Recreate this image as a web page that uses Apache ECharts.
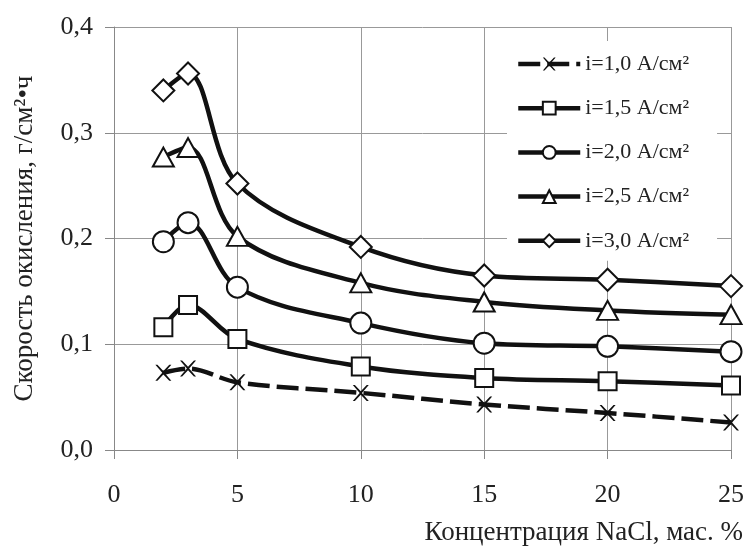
<!DOCTYPE html>
<html>
<head>
<meta charset="utf-8">
<script src="https://cdn.jsdelivr.net/npm/echarts@6/dist/echarts.min.js"></script>
<style>
  html, body { margin: 0; padding: 0; background: #fff; }
  #chart { width: 749px; height: 549px; }
</style>
</head>
<body>
<div id="chart"></div>
<script>
// концентрация NaCl, мас. %
const conc = [2, 3, 5, 10, 15, 20, 25];
// скорость окисления, г/см2·ч, для разных плотностей тока
const i10 = [0.073, 0.077, 0.064, 0.054, 0.043, 0.035, 0.026];
const i15 = [0.116, 0.137, 0.105, 0.079, 0.068, 0.065, 0.061];
const i20 = [0.197, 0.215, 0.154, 0.120, 0.101, 0.098, 0.093];
const i25 = [0.277, 0.286, 0.202, 0.158, 0.140, 0.132, 0.128];
const i30 = [0.340, 0.356, 0.252, 0.192, 0.165, 0.161, 0.155];
const seriesNames = ['i=1,0 А/см²', 'i=1,5 А/см²', 'i=2,0 А/см²', 'i=2,5 А/см²', 'i=3,0 А/см²'];
const xTicks = [0, 5, 10, 15, 20, 25];
const yTicks = [0, 0.1, 0.2, 0.3, 0.4];

const font = 'Liberation Serif';
// тонкий крестик
const crossPath = 'path://M0,0L1.3,0L5,3.9L8.7,0L10,0L5.7,5L10,10L8.7,10L5,6.1L1.3,10L0,10L4.3,5Z';

function pairs(vals) {
  return conc.map((c, k) => [c, vals[k]]);
}

function mkSeries(name, vals, symbol, size, dashed) {
  return {
    name: name,
    type: 'line',
    smooth: 0.35,
    data: pairs(vals),
    symbol: symbol,
    symbolSize: size,
    showAllSymbol: true,
    lineStyle: { color: '#111', width: 4.5, type: dashed ? [22, 7] : 'solid' },
    itemStyle: dashed
      ? { color: '#111', borderWidth: 0 }
      : { color: '#fff', borderColor: '#111', borderWidth: 2 },
    emphasis: { disabled: true },
    z: 3
  };
}

const chart = echarts.init(document.getElementById('chart'));
chart.setOption({
  animation: false,
  textStyle: { fontFamily: font },
  grid: { left: 114, right: 18, top: 27, bottom: 99 },
  legend: {
    data: seriesNames,
    orient: 'vertical',
    left: 507,
    top: 41,
    backgroundColor: '#fff',
    padding: [12, 28, 9, 9],
    itemWidth: 62,
    itemHeight: 16,
    itemGap: 22.2,
    lineStyle: { width: 4.5 },
    textStyle: { fontFamily: font, fontSize: 22, color: '#222' },
    z: 10
  },
  xAxis: {
    type: 'value',
    min: xTicks[0],
    max: xTicks[xTicks.length - 1],
    interval: 5,
    name: 'Концентрация NaCl, мас. %',
    nameLocation: 'end',
    nameGap: 12,
    nameTextStyle: {
      fontFamily: font, fontSize: 27, color: '#222',
      align: 'right', verticalAlign: 'top', padding: [69, 0, 0, 0]
    },
    axisLine: { lineStyle: { color: '#888', width: 1 } },
    axisTick: { show: true, length: 9, lineStyle: { color: '#888' } },
    axisLabel: { fontFamily: font, fontSize: 26, color: '#222', margin: 32 },
    splitLine: { show: true, lineStyle: { color: '#999', width: 1 } }
  },
  yAxis: {
    type: 'value',
    min: yTicks[0],
    max: yTicks[yTicks.length - 1],
    interval: 0.1,
    name: 'Скорость окисления, г/см²•ч',
    nameLocation: 'middle',
    nameGap: 76,
    nameTextStyle: { fontFamily: font, fontSize: 27, color: '#222' },
    axisLine: { show: true, lineStyle: { color: '#888', width: 1 } },
    axisTick: { show: true, length: 9, lineStyle: { color: '#888' } },
    axisLabel: {
      fontFamily: font, fontSize: 26, color: '#222', margin: 21,
      formatter: v => v.toFixed(1).replace('.', ',')
    },
    splitLine: { show: true, lineStyle: { color: '#999', width: 1 } }
  },
  series: [
    mkSeries(seriesNames[0], i10, crossPath, 16, true),
    mkSeries(seriesNames[1], i15, 'rect', 18, false),
    mkSeries(seriesNames[2], i20, 'circle', 21, false),
    mkSeries(seriesNames[3], i25, 'triangle', [21, 19], false),
    mkSeries(seriesNames[4], i30, 'diamond', 22, false)
  ]
});
</script>
</body>
</html>
